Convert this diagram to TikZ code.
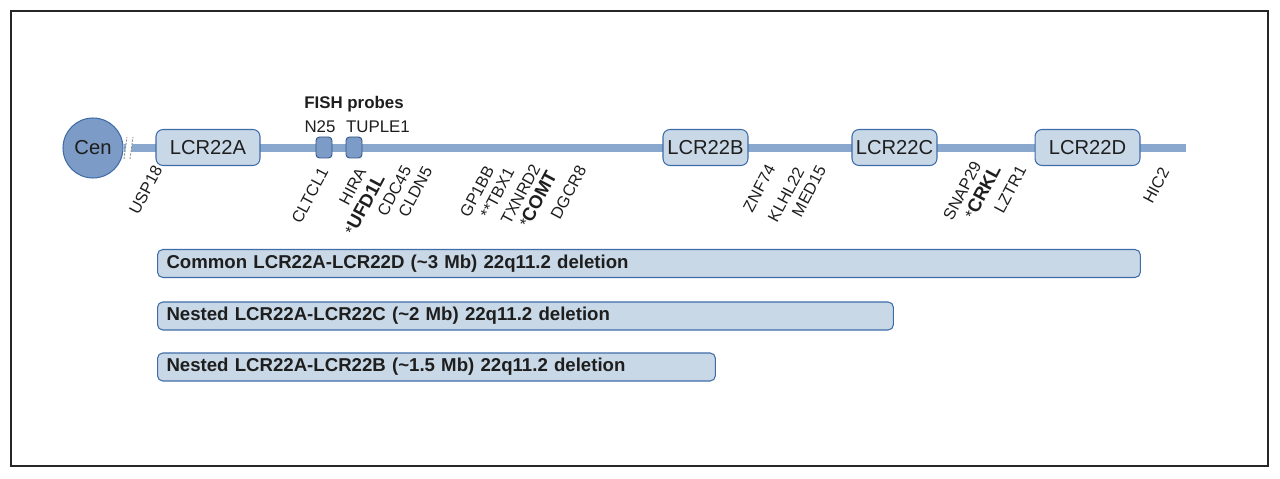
\documentclass[tikz,border=0pt]{standalone}
\usepackage{fontspec}
\setmainfont{Liberation Sans}
\usetikzlibrary{calc}

\definecolor{chrline}{RGB}{138,168,206}
\definecolor{cenfill}{RGB}{124,155,198}
\definecolor{boxfill}{RGB}{201,216,230}
\definecolor{boxedge}{RGB}{62,108,168}
\definecolor{inktext}{RGB}{30,30,30}

\tikzset{
  lcrbox/.style={draw=boxedge, fill=boxfill, rounded corners=4pt, line width=0.6pt,
    minimum height=0.72cm, inner sep=0pt, font=\fontsize{11.5}{13}\selectfont, text=inktext},
  probebox/.style={draw=boxedge!80!black, fill=cenfill, rounded corners=2pt, line width=0.5pt,
    minimum width=0.32cm, minimum height=0.42cm, inner sep=0pt},
  gene/.style={rotate=62, anchor=east, inner sep=0pt, font=\fontsize{9.3}{11}\selectfont, text=inktext},
  delbar/.style={draw=boxedge, fill=boxfill, rounded corners=3pt, line width=0.6pt,
    minimum height=0.56cm, inner xsep=0.18cm, inner ysep=0pt, anchor=west, align=left,
    font=\bfseries\fontsize{10.6}{12}\selectfont, text=inktext},
}

\begin{document}
\begin{tikzpicture}[x=0.02cm, y=-0.02cm]
				\useasboundingbox (0,0) rectangle (1280,479);
				\draw[line width=0.8pt, black!85] (11,11) rectangle (1268,466);
				
				% chromosome
				\node[circle, draw=boxedge, fill=cenfill, line width=0.6pt, minimum size=1.2cm, inner sep=0pt,
				      font=\fontsize{11.5}{13}\selectfont, text=inktext] (cen) at (93,148) {Cen};
				\coordinate (qter) at (1186,148);
				\draw[chrline, line width=4pt] (cen.east) -- (qter);
				\fill[white] (124,159) -- (127,137) -- (133,137) -- (130,159) -- cycle;
				\draw[black!45, dash pattern=on 1.2pt off 0.8pt, line width=0.5pt] (124,159) -- (127,137);
				\draw[black!45, dash pattern=on 1.2pt off 0.8pt, line width=0.5pt] (130,159) -- (133,137);
				
				\node[lcrbox, minimum width=2.08cm] (lcrA) at (208,147.5) {LCR22A};
				\node[lcrbox, minimum width=1.70cm] (lcrB) at (705.5,147.5) {LCR22B};
				\node[lcrbox, minimum width=1.70cm] (lcrC) at (894.5,147.5) {LCR22C};
				\node[lcrbox, minimum width=2.10cm] (lcrD) at (1087.5,147.5) {LCR22D};
				
				% FISH probes
				\node[probebox] (n25) at (324,147.5) {};
				\node[probebox] (tuple) at (354,147.5) {};
				\node[font=\bfseries\fontsize{9.6}{11}\selectfont, text=inktext] (fish) at (354,104) {FISH probes};
				\node[font=\fontsize{9.6}{11}\selectfont, text=inktext] (n25lab) at (320,127) {N25};
				\node[font=\fontsize{9.6}{11}\selectfont, text=inktext] (tuplelab) at (378,127) {TUPLE1};
				
				% genes
				\node[gene] (usp) at (158,167) {USP18};
				\node[gene] (cltcl) at (324,169) {CLTCL1};
				\node[gene] (hira) at (362,169) {HIRA};
				\node[gene] (ufd) at (380,175) {*\textbf{\fontsize{10.5}{12}\selectfont UFD1L}};
				\node[gene] (cdc) at (407,167) {CDC45};
				\node[gene] (cldn) at (428,168) {CLDN5};
				\node[gene] (gp) at (490,167) {GP1BB};
				\node[gene] (tbx) at (510,169) {**TBX1};
				\node[gene] (txn) at (536,165) {TXNRD2};
				\node[gene] (comt) at (552,172) {*\textbf{\fontsize{10.5}{12}\selectfont COMT}};
				\node[gene] (dgcr) at (582,167) {DGCR8};
				\node[gene] (znf) at (771,166) {ZNF74};
				\node[gene] (klhl) at (800,168) {KLHL22};
				\node[gene] (med) at (822,167) {MED15};
				\node[gene] (snap) at (977,163) {SNAP29};
				\node[gene] (crkl) at (996,166) {*\textbf{\fontsize{10.5}{12}\selectfont CRKL}};
				\node[gene] (lztr) at (1022,167) {LZTR1};
				\node[gene] (hic) at (1165,169) {HIC2};
				
				% deletions
				\node[delbar, minimum width=19.66cm, text width=19.30cm] (delAD) at (157,263.5) {Common LCR22A-LCR22D (\textasciitilde 3 Mb) 22q11.2 deletion};
				\node[delbar, minimum width=14.72cm, text width=14.36cm] (delAC) at (157,316) {Nested LCR22A-LCR22C (\textasciitilde 2 Mb) 22q11.2 deletion};
				\node[delbar, minimum width=11.16cm, text width=10.80cm] (delAB) at (157,367) {Nested LCR22A-LCR22B (\textasciitilde 1.5 Mb) 22q11.2 deletion};
			\end{tikzpicture}
\end{document}
